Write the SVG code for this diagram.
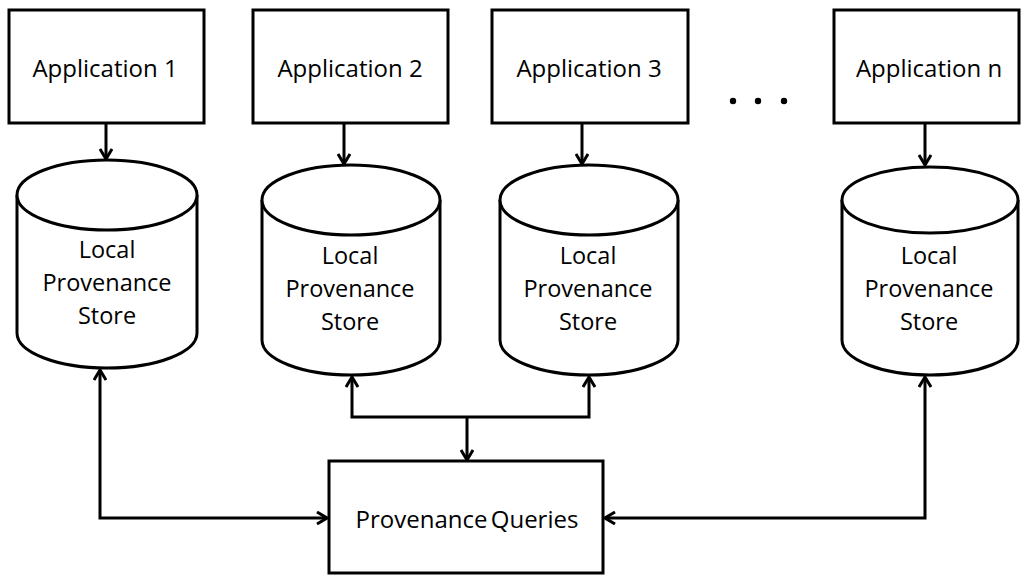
<svg xmlns="http://www.w3.org/2000/svg" width="1021" height="576" viewBox="0 0 1021 576">
  <style>
    .box { fill: #fff; stroke: #000; stroke-width: 3; }
    .cyl { fill: #fff; stroke: #000; stroke-width: 3; }
    .lbl { font-family: "Open Sans", "Liberation Sans", sans-serif; font-size: 24px; fill: #000; text-anchor: middle; dominant-baseline: central; }
    .cyl-lbl { font-family: "Open Sans", "Liberation Sans", sans-serif; font-size: 23.5px; fill: #000; text-anchor: middle; dominant-baseline: central; }
    .wire { fill: none; stroke: #000; stroke-width: 3; }
  </style>
  <defs>
    <marker id="arrow" viewBox="0 0 12 14" refX="11" refY="7" markerWidth="12" markerHeight="14" markerUnits="userSpaceOnUse" orient="auto-start-reverse">
      <path d="M1,1 L11,7 L1,13" fill="none" stroke="#000" stroke-width="3"/>
    </marker>
  </defs>

  <!-- connectors -->
  <g id="connectors">
    <line class="wire" x1="106" y1="123" x2="106" y2="159" marker-end="url(#arrow)"/>
    <line class="wire" x1="344" y1="123" x2="344" y2="164" marker-end="url(#arrow)"/>
    <line class="wire" x1="582" y1="123" x2="582" y2="164" marker-end="url(#arrow)"/>
    <line class="wire" x1="925" y1="123" x2="925" y2="165" marker-end="url(#arrow)"/>
    <!-- stores 2 and 3 share a branch into the query box -->
    <path class="wire" d="M352,377 L352,417 L589,417 L589,377" marker-start="url(#arrow)" marker-end="url(#arrow)"/>
    <line class="wire" x1="467" y1="417" x2="467" y2="460" marker-end="url(#arrow)"/>
    <path class="wire" d="M100,370 L100,518 L327,518" marker-start="url(#arrow)" marker-end="url(#arrow)"/>
    <path class="wire" d="M925,377 L925,518 L605,518" marker-start="url(#arrow)" marker-end="url(#arrow)"/>
  </g>

  <!-- applications -->
  <g id="app1">
    <rect class="box" x="9" y="10" width="195" height="113"/>
    <text class="lbl" x="105" y="67">Application 1</text>
  </g>
  <g id="app2">
    <rect class="box" x="253" y="10" width="195" height="113"/>
    <text class="lbl" x="350" y="67">Application 2</text>
  </g>
  <g id="app3">
    <rect class="box" x="492" y="10" width="196" height="113"/>
    <text class="lbl" x="589" y="67">Application 3</text>
  </g>
  <g id="ellipsis">
    <circle cx="733" cy="101" r="3.2" fill="#000"/>
    <circle cx="758" cy="101" r="3.2" fill="#000"/>
    <circle cx="784" cy="101" r="3.2" fill="#000"/>
  </g>
  <g id="appn">
    <rect class="box" x="834" y="10" width="185" height="113"/>
    <text class="lbl" x="929" y="67">Application n</text>
  </g>

  <!-- local stores -->
  <g id="store1">
    <path class="cyl" d="M17,195 L17,333 A90,35 0 0 0 197,333 L197,195"/>
    <ellipse class="cyl" cx="107" cy="195" rx="90" ry="35"/>
    <text class="cyl-lbl" x="107" y="249">Local</text>
    <text class="cyl-lbl" x="107" y="282">Provenance</text>
    <text class="cyl-lbl" x="107" y="315">Store</text>
  </g>
  <g id="store2">
    <path class="cyl" d="M262,200 L262,340 A89,35 0 0 0 440,340 L440,200"/>
    <ellipse class="cyl" cx="351" cy="200" rx="89" ry="35"/>
    <text class="cyl-lbl" x="350" y="255">Local</text>
    <text class="cyl-lbl" x="350" y="288">Provenance</text>
    <text class="cyl-lbl" x="350" y="321">Store</text>
  </g>
  <g id="store3">
    <path class="cyl" d="M500,200 L500,340 A89,35 0 0 0 678,340 L678,200"/>
    <ellipse class="cyl" cx="589" cy="200" rx="89" ry="35"/>
    <text class="cyl-lbl" x="588" y="255">Local</text>
    <text class="cyl-lbl" x="588" y="288">Provenance</text>
    <text class="cyl-lbl" x="588" y="321">Store</text>
  </g>
  <g id="storen">
    <path class="cyl" d="M842,200 L842,340 A88,35 0 0 0 1018,340 L1018,200"/>
    <ellipse class="cyl" cx="930" cy="200" rx="88" ry="33"/>
    <text class="cyl-lbl" x="929" y="255">Local</text>
    <text class="cyl-lbl" x="929" y="288">Provenance</text>
    <text class="cyl-lbl" x="929" y="321">Store</text>
  </g>

  <!-- query service -->
  <g id="queries">
    <rect class="box" x="329" y="461" width="274" height="112"/>
    <text class="lbl" x="467" y="518" font-size="23.5" word-spacing="-3">Provenance Queries</text>
  </g>
</svg>
